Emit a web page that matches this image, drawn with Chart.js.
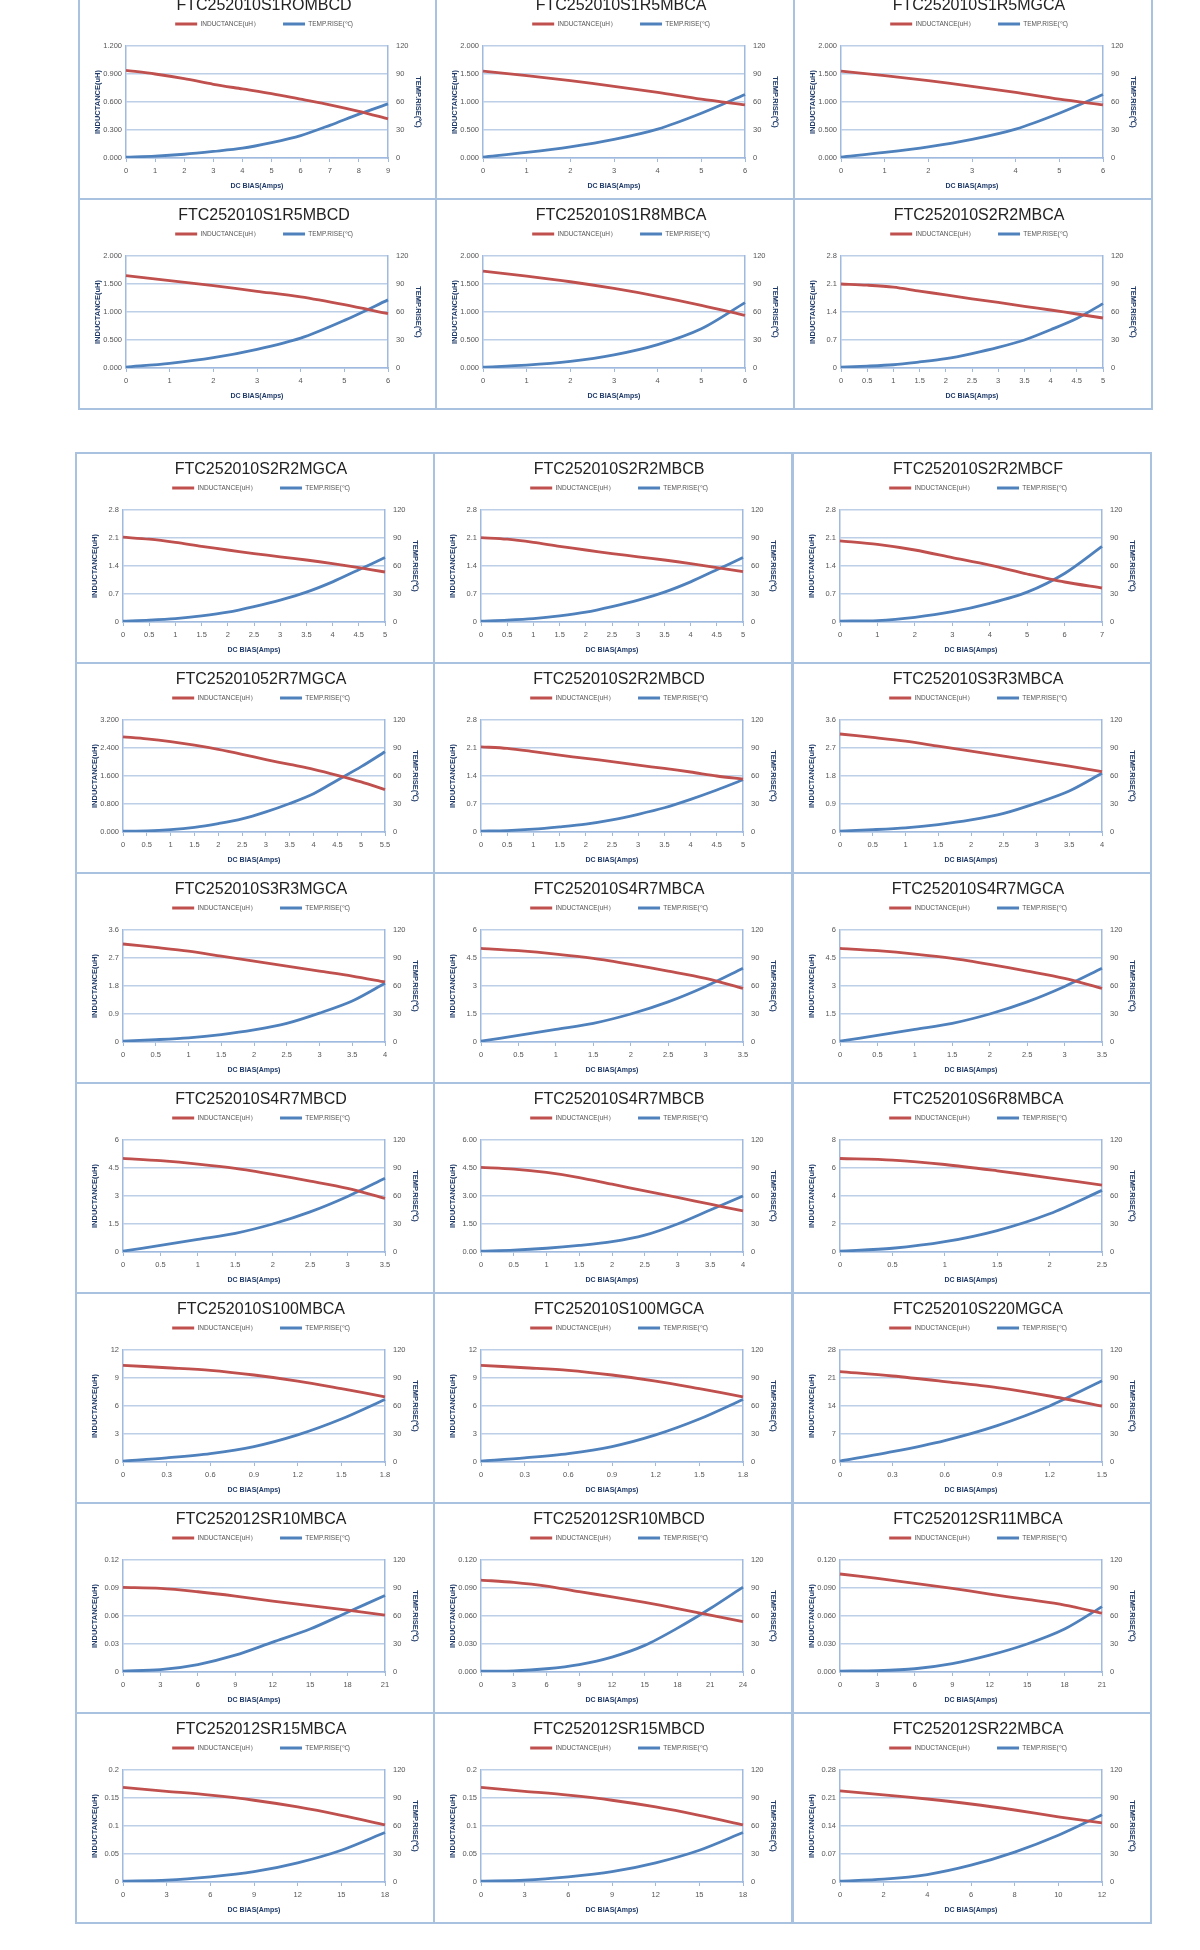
<!DOCTYPE html>
<html>
<head>
<meta charset="utf-8">
<script src="https://cdn.jsdelivr.net/npm/chart.js@4.4.0/dist/chart.umd.min.js"></script>
<style>
html,body{margin:0;padding:0;background:#fff;}
#page{position:relative;width:1200px;height:1950px;overflow:hidden;background:#fff;}
.panel{position:absolute;width:360px;height:212px;box-sizing:border-box;border:2px solid #a9c2e0;background:#fff;}
.panel canvas{position:absolute;left:0;top:0;}
</style>
</head>
<body>
<div id="page"></div>
<script>
// ---------- DATA ----------
const titles = [
  'FTC252010S1ROMBCD','FTC252010S1R5MBCA','FTC252010S1R5MGCA',
  'FTC252010S1R5MBCD','FTC252010S1R8MBCA','FTC252010S2R2MBCA',
  'FTC252010S2R2MGCA','FTC252010S2R2MBCB','FTC252010S2R2MBCF',
  'FTC25201052R7MGCA','FTC252010S2R2MBCD','FTC252010S3R3MBCA',
  'FTC252010S3R3MGCA','FTC252010S4R7MBCA','FTC252010S4R7MGCA',
  'FTC252010S4R7MBCD','FTC252010S4R7MBCB','FTC252010S6R8MBCA',
  'FTC252010S100MBCA','FTC252010S100MGCA','FTC252010S220MGCA',
  'FTC252012SR10MBCA','FTC252012SR10MBCD','FTC252012SR11MBCA',
  'FTC252012SR15MBCA','FTC252012SR15MBCD','FTC252012SR22MBCA'
];
const seriesNames = ['INDUCTANCE(uH）', 'TEMP.RISE(℃)'];
const axisTitles = ['INDUCTANCE(uH)', 'TEMP.RISE(℃)', 'DC BIAS(Amps)'];

// DC bias category sets (Amps)
const bias0to9   = ['0','1','2','3','4','5','6','7','8','9'];
const bias0to6   = ['0','1','2','3','4','5','6'];
const bias0to7   = ['0','1','2','3','4','5','6','7'];
const bias0to5h  = ['0','0.5','1','1.5','2','2.5','3','3.5','4','4.5','5'];
const bias0to55h = ['0','0.5','1','1.5','2','2.5','3','3.5','4','4.5','5','5.5'];
const bias0to4h  = ['0','0.5','1','1.5','2','2.5','3','3.5','4'];
const bias0to35h = ['0','0.5','1','1.5','2','2.5','3','3.5'];
const bias0to25h = ['0','0.5','1','1.5','2','2.5'];
const bias0to18t = ['0','0.3','0.6','0.9','1.2','1.5','1.8'];
const bias0to15t = ['0','0.3','0.6','0.9','1.2','1.5'];
const bias0to21  = ['0','3','6','9','12','15','18','21'];
const bias0to24  = ['0','3','6','9','12','15','18','21','24'];
const bias0to18  = ['0','3','6','9','12','15','18'];
const bias0to12  = ['0','2','4','6','8','10','12'];

const xLabels = [
  bias0to9, bias0to6, bias0to6,
  bias0to6, bias0to6, bias0to5h,
  bias0to5h, bias0to5h, bias0to7,
  bias0to55h, bias0to5h, bias0to4h,
  bias0to4h, bias0to35h, bias0to35h,
  bias0to35h, bias0to4h, bias0to25h,
  bias0to18t, bias0to18t, bias0to15t,
  bias0to21, bias0to24, bias0to21,
  bias0to18, bias0to18, bias0to12
];

// Inductance (uH), left axis
const inductance = [
  [0.94, 0.90, 0.85, 0.79, 0.74, 0.69, 0.63, 0.57, 0.50, 0.42],
  [1.55, 1.47, 1.38, 1.28, 1.17, 1.05, 0.95],
  [1.55, 1.47, 1.38, 1.28, 1.17, 1.05, 0.95],
  [1.65, 1.56, 1.47, 1.37, 1.27, 1.13, 0.97],
  [1.73, 1.64, 1.54, 1.42, 1.28, 1.12, 0.94],
  [2.10, 2.07, 2.02, 1.92, 1.83, 1.73, 1.64, 1.54, 1.45, 1.35, 1.25],
  [2.12, 2.07, 1.99, 1.89, 1.80, 1.71, 1.63, 1.55, 1.46, 1.36, 1.25],
  [2.11, 2.07, 1.99, 1.89, 1.80, 1.71, 1.63, 1.55, 1.46, 1.36, 1.26],
  [2.03, 1.94, 1.80, 1.61, 1.42, 1.20, 1.00, 0.85],
  [2.72, 2.66, 2.58, 2.48, 2.36, 2.22, 2.07, 1.93, 1.79, 1.62, 1.43, 1.21],
  [2.13, 2.09, 2.01, 1.92, 1.84, 1.76, 1.67, 1.59, 1.50, 1.40, 1.32],
  [3.15, 3.04, 2.92, 2.76, 2.60, 2.44, 2.28, 2.12, 1.94],
  [3.15, 3.04, 2.92, 2.76, 2.60, 2.44, 2.28, 2.12, 1.93],
  [5.02, 4.89, 4.71, 4.48, 4.16, 3.80, 3.41, 2.87],
  [5.02, 4.89, 4.71, 4.48, 4.16, 3.80, 3.41, 2.87],
  [5.02, 4.89, 4.71, 4.48, 4.16, 3.80, 3.41, 2.87],
  [4.53, 4.44, 4.26, 3.99, 3.63, 3.28, 2.92, 2.56, 2.20],
  [6.68, 6.56, 6.25, 5.80, 5.30, 4.77],
  [10.36, 10.10, 9.82, 9.32, 8.67, 7.85, 6.99],
  [10.36, 10.10, 9.82, 9.32, 8.67, 7.85, 6.99],
  [22.6, 21.5, 20.1, 18.6, 16.5, 14.0],
  [0.0907, 0.0896, 0.0860, 0.0814, 0.0760, 0.0710, 0.0663, 0.0610],
  [0.0985, 0.0960, 0.0920, 0.0860, 0.0806, 0.0745, 0.0680, 0.0610, 0.0540],
  [0.1050, 0.1003, 0.0949, 0.0896, 0.0835, 0.0777, 0.0717, 0.0630],
  [0.169, 0.162, 0.155, 0.146, 0.134, 0.119, 0.102],
  [0.169, 0.162, 0.155, 0.146, 0.134, 0.119, 0.102],
  [0.228, 0.218, 0.2075, 0.195, 0.180, 0.163, 0.148]
];

// Temperature rise (°C), right axis
const tempRise = [
  [1, 2, 4, 7, 10.5, 16.5, 24, 35, 47, 58],
  [1, 6, 12, 20, 31, 48, 68],
  [1, 6, 12, 20, 31, 48, 68],
  [1, 5, 11, 20, 32, 51, 73],
  [1, 3, 7, 14, 25, 42, 70],
  [1, 2, 3.5, 6.5, 10, 15.5, 22, 30, 41, 53, 69],
  [1, 2, 3.6, 6.5, 10.5, 16.5, 23.5, 32, 43, 56, 69],
  [1, 2, 3.6, 6.5, 10.5, 16.5, 23.5, 32, 43, 56, 69],
  [1, 1.5, 5, 11, 20, 32, 52, 81],
  [1, 1.2, 2.5, 5, 9, 14, 21.5, 30.5, 41, 55.5, 70, 86],
  [1, 1.5, 3, 5.5, 8.5, 13, 19, 26, 35, 45, 56],
  [1, 2.5, 4.5, 8, 13, 20, 31, 44, 63],
  [1, 2.5, 4.5, 8, 13, 20, 31, 44, 63],
  [1, 7, 13.5, 20, 30, 43, 59.5, 79],
  [1, 7, 13.5, 20, 30, 43, 59.5, 79],
  [1, 7, 13.5, 20, 30, 43, 59.5, 79],
  [1, 2, 4, 7, 11, 18, 30, 45, 60],
  [1, 4, 11, 23, 41, 66],
  [1, 4.5, 9, 16.5, 29, 46, 67],
  [1, 4.5, 9, 16.5, 29, 46, 67],
  [1, 11, 23, 39, 60, 87],
  [1, 2.5, 8, 18, 32, 46, 64, 82],
  [1, 1.2, 3.5, 8, 16, 28.5, 47, 68, 91],
  [1, 1.5, 3.5, 9, 18, 30, 46, 70],
  [1, 2, 5.5, 11, 20.5, 34, 53],
  [1, 2, 5.5, 11, 20.5, 34, 53],
  [1, 3, 8, 18, 32, 50, 72]
];

// Left axis tick labels
const ticks1200 = ['0.000','0.300','0.600','0.900','1.200'];
const ticks2000 = ['0.000','0.500','1.000','1.500','2.000'];
const ticks28    = ['0','0.7','1.4','2.1','2.8'];
const ticks3200 = ['0.000','0.800','1.600','2.400','3.200'];
const ticks36    = ['0','0.9','1.8','2.7','3.6'];
const ticks6     = ['0','1.5','3','4.5','6'];
const ticks600   = ['0.00','1.50','3.00','4.50','6.00'];
const ticks8     = ['0','2','4','6','8'];
const ticks12    = ['0','3','6','9','12'];
const ticks28b   = ['0','7','14','21','28'];
const ticks012   = ['0','0.03','0.06','0.09','0.12'];
const ticks0120  = ['0.000','0.030','0.060','0.090','0.120'];
const ticks02    = ['0','0.05','0.1','0.15','0.2'];
const ticks028   = ['0','0.07','0.14','0.21','0.28'];
const tempTicks  = ['0','30','60','90','120'];

const inductanceTicks = [
  ticks1200, ticks2000, ticks2000,
  ticks2000, ticks2000, ticks28,
  ticks28, ticks28, ticks28,
  ticks3200, ticks28, ticks36,
  ticks36, ticks6, ticks6,
  ticks6, ticks600, ticks8,
  ticks12, ticks12, ticks28b,
  ticks012, ticks0120, ticks0120,
  ticks02, ticks02, ticks028
];

// ---------- LAYOUT & STYLE ----------
const RED = '#c0504d', BLUE = '#4f81bd';
const GRID = '#bccfe7', AXIS = '#9fbade', NAVY = '#1f3a68', TICK = '#555555';
const colLeftTop = [78, 435, 793], rowTopTop = [-12, 198];
const colLeftBottom = [75, 433, 792];

Chart.defaults.font.family = "'Liberation Sans', Arial, sans-serif";

const page = document.getElementById('page');
titles.forEach((t, i) => {
  const r = Math.floor(i / 3), c = i % 3;
  const left = r < 2 ? colLeftTop[c] : colLeftBottom[c];
  const top = r < 2 ? rowTopTop[r] : 452 + 210 * (r - 2);
  const div = document.createElement('div');
  div.className = 'panel';
  div.style.left = left + 'px';
  div.style.top = top + 'px';
  const cv = document.createElement('canvas');
  cv.width = 356; cv.height = 208;
  cv.style.width = '356px'; cv.style.height = '208px';
  div.appendChild(cv);
  page.appendChild(div);

  const tickSet = inductanceTicks[i];
  const yMax = parseFloat(tickSet[tickSet.length - 1]);
  const yStep = yMax / 4;

  new Chart(cv, {
    type: 'line',
    data: {
      labels: xLabels[i],
      datasets: [
        { label: seriesNames[0], data: inductance[i], borderColor: RED, backgroundColor: RED, xAxisID: 'x', yAxisID: 'y' },
        { label: seriesNames[1], data: tempRise[i], borderColor: BLUE, backgroundColor: BLUE, xAxisID: 'x', yAxisID: 'y2' }
      ]
    },
    options: {
      responsive: false,
      animation: false,
      devicePixelRatio: 1,
      layout: { padding: { left: 12, right: 0, top: 0, bottom: 0 } },
      elements: {
        line: { borderWidth: 2.8, tension: 0.3, fill: false, capBezierPoints: true },
        point: { radius: 0, hoverRadius: 0 }
      },
      plugins: {
        tooltip: { enabled: false },
        title: {
          display: true, text: t, color: '#222222',
          font: { size: 16, lineHeight: 1, weight: 'normal' },
          padding: { top: 8, bottom: 0 }
        },
        legend: {
          display: true, position: 'top', align: 'center',
          labels: {
            boxWidth: 22, boxHeight: 3, padding: 6.75, color: TICK,
            font: { size: 6.5, lineHeight: 1 },
            generateLabels: (ch) => {
              const items = Chart.defaults.plugins.legend.labels.generateLabels(ch);
              items.forEach(it => { it.lineWidth = 0; });
              items[0].text = items[0].text + '\u2003\u2003\u2002';
              return items;
            }
          }
        }
      },
      scales: {
        x: {
          type: 'category', position: 'bottom', offset: false,
          grid: { display: true, drawOnChartArea: false, drawTicks: true, tickLength: 4, color: AXIS, lineWidth: 1 },
          border: { display: true, color: AXIS, width: 1.5 },
          ticks: { autoSkip: false, maxRotation: 0, minRotation: 0, padding: 4.5, color: TICK, font: { size: 7.5 } },
          title: { display: true, text: axisTitles[2], color: NAVY, font: { size: 7, weight: 'bold', lineHeight: 1.2 }, padding: { top: 0, bottom: 7.5 } },
          afterFit: (s) => { s.height = 40; }
        },
        sp: {
          type: 'linear', position: 'top', display: true,
          ticks: { display: false }, grid: { display: false }, border: { display: false },
          afterFit: (s) => { s.height = 8.75; }
        },
        y: {
          type: 'linear', position: 'left', min: 0, max: yMax,
          ticks: { stepSize: yStep, padding: 4, color: TICK, font: { size: 7.5 },
                   callback: (v) => tickSet[Math.round(v / yStep)] },
          grid: { display: true, drawTicks: false, color: GRID, lineWidth: 1.5 },
          border: { display: true, color: AXIS, width: 1.5 },
          title: { display: true, text: axisTitles[0], color: NAVY, font: { size: 7.5, weight: 'bold', lineHeight: 1.2 }, padding: { top: 1.5, bottom: 0 } },
          afterFit: (s) => { s.width = 34; }
        },
        y2: {
          type: 'linear', position: 'right', min: 0, max: 120,
          ticks: { stepSize: 30, padding: 8, color: TICK, font: { size: 7.5 },
                   callback: (v) => tempTicks[Math.round(v / 30)] },
          grid: { display: false, drawTicks: false },
          border: { display: true, color: AXIS, width: 1.5 },
          title: { display: true, text: axisTitles[1], color: NAVY, font: { size: 7.5, weight: 'bold', lineHeight: 1.2 }, padding: { top: 13.5, bottom: 0 } },
          afterFit: (s) => { s.width = 48; }
        }
      }
    }
  });
});
</script>
</body>
</html>
